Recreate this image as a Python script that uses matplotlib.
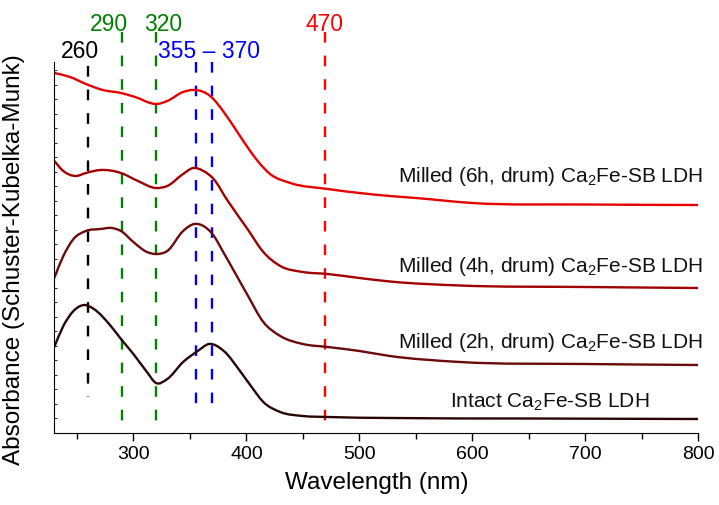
import numpy as np
import matplotlib
matplotlib.use('Agg')
import matplotlib.pyplot as plt
from matplotlib.ticker import MultipleLocator
from matplotlib.path import Path
from matplotlib.patches import PathPatch

plt.rcParams['font.family'] = ['Liberation Sans', 'DejaVu Sans']
plt.rcParams['mathtext.default'] = 'regular'

# spectra (wavelength in nm, stacked absorbance in arb. units)
wl_6h = [230, 244, 258, 273, 289, 304, 315, 320, 330, 344, 352, 358, 364, 369, 380, 392, 404, 410,
         421, 439, 472, 500, 527, 550, 600, 700, 800]
ab_6h = [360, 356, 349, 343, 340, 335, 330, 329, 332, 341, 343, 342.5, 340, 336, 321, 301, 281, 272,
         259, 250, 244, 240, 237, 235, 230, 228.5, 228]

wl_4h = [230, 238, 249, 258, 271, 289, 304, 320, 330, 344, 353, 362, 371, 383, 401, 415,
         430, 450, 472, 500, 527, 589, 700, 800]
ab_4h = [272, 262, 257, 260, 263, 260, 252, 245, 247, 259, 265, 262, 254, 233, 204, 181,
         167, 161, 159, 155, 151.5, 147.5, 146, 145]

wl_2h = [230, 238, 247, 258, 271, 281, 289, 300, 312, 320, 330, 344, 354, 362, 370, 380,
         392, 401, 415, 430, 450, 472, 500, 527, 589, 700, 800]
ab_2h = [155, 177, 194, 202, 204, 205, 202, 191, 181, 179, 182, 202, 209, 207, 199, 180,
         156, 138, 111, 97, 89, 86, 82, 77, 71, 69, 68]

wl_intact = [230, 238, 247, 257, 265, 280, 289, 300, 312, 320, 330, 344, 357, 367, 380,
             395, 404, 415, 430, 450, 472, 527, 650, 800]
ab_intact = [86, 107, 122, 128, 124, 107, 94, 79, 61, 50, 54, 71, 82, 89, 82,
             61, 47, 31, 21, 17, 16, 15, 14.5, 14]

series = [
    (wl_6h, ab_6h, '#e60000', 'Milled (6h, drum) Ca$_2$Fe-SB LDH', 804, 252),
    (wl_4h, ab_4h, '#a00000', 'Milled (4h, drum) Ca$_2$Fe-SB LDH', 804, 162),
    (wl_2h, ab_2h, '#6a0a0a', 'Milled (2h, drum) Ca$_2$Fe-SB LDH', 804, 86),
    (wl_intact, ab_intact, '#2a0505', 'Intact Ca$_2$Fe-SB LDH', 757, 26),
]

# marker lines: position, colour, top, bottom
peaks = [260, 290, 320, 355, 370, 470]
peak_colors = ['black', 'green', 'green', 'blue', 'blue', 'red']
peak_top = [367, 401, 401, 371, 371, 401]
peak_bottom = [36, 6, 6, 17, 17, 6]

peak_labels = ['260', '290', '320', '355 \u2013 370', '470']
label_x = [252.5, 278.5, 326, 367, 469]
label_y = [376, 403, 403, 376, 403]
label_colors = ['black', 'green', 'green', 'blue', 'red']


def smooth_path(x, y):
    # draw the read points with cubic bezier segments so the line looks smooth
    x = np.asarray(x, float)
    y = np.asarray(y, float)
    h = np.diff(x)
    d = np.diff(y) / h
    m = np.empty_like(y)
    m[0], m[-1] = d[0], d[-1]
    m[1:-1] = (d[:-1] * h[1:] + d[1:] * h[:-1]) / (h[:-1] + h[1:])
    verts = [(x[0], y[0])]
    codes = [Path.MOVETO]
    for i in range(len(x) - 1):
        verts += [(x[i] + h[i] / 3, y[i] + m[i] * h[i] / 3),
                  (x[i + 1] - h[i] / 3, y[i + 1] - m[i + 1] * h[i] / 3),
                  (x[i + 1], y[i + 1])]
        codes += [Path.CURVE4] * 3
    return Path(verts, codes)


fig = plt.figure(figsize=(7.19, 5.06), dpi=100)
ax = fig.add_axes([0.0755, 0.1423, 0.8958, 0.7332])

for x, c, t, b in zip(peaks, peak_colors, peak_top, peak_bottom):
    ax.plot([x, x], [t, b], color=c, lw=1.7, linestyle=(0, (4.5, 5.5)), clip_on=False, zorder=1)

for wl, ab, c, name, tx, ty in series:
    ax.add_patch(PathPatch(smooth_path(wl, ab), fill=False, edgecolor=c, lw=1.7,
                           joinstyle='round', zorder=2))
    ax.text(tx, ty, name, color='#111111', fontsize=15, ha='right', va='baseline', clip_on=False)

for s, x, y, c in zip(peak_labels, label_x, label_y, label_colors):
    ax.text(x, y, s, color=c, fontsize=16.5, ha='center', va='baseline', clip_on=False)

ax.set_xlim(230, 800)
ax.set_ylim(0, 371)
ax.spines['top'].set_visible(False)
ax.spines['right'].set_visible(False)
ax.xaxis.set_major_locator(MultipleLocator(100))
ax.xaxis.set_minor_locator(MultipleLocator(50))
ax.yaxis.set_major_locator(MultipleLocator(14.5))
ax.tick_params(axis='x', which='major', direction='out', length=6, width=1, labelsize=14, pad=3)
ax.tick_params(axis='x', which='minor', direction='out', length=4, width=1)
ax.tick_params(axis='y', which='major', direction='in', length=2.5, width=0.6, labelleft=False)

ax.set_xlabel('Wavelength (nm)', fontsize=17.5, labelpad=6)
ax.set_ylabel('Absorbance (Schuster-Kubelka-Munk)', fontsize=17.5, labelpad=12)
ax.yaxis.set_label_coords(-0.045, 0.47)

fig.savefig('out.png', dpi=100)
